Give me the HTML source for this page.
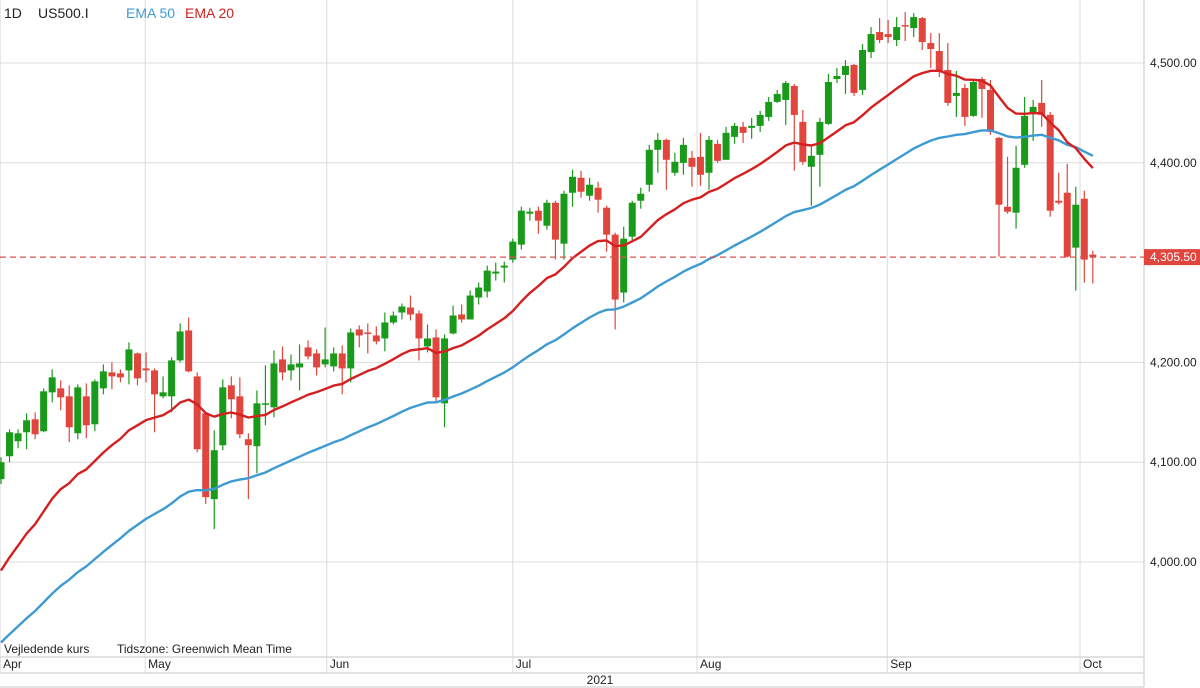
<!DOCTYPE html>
<html><head><meta charset="utf-8"><style>
body{margin:0;background:#fff;width:1200px;height:688px;overflow:hidden;font-family:"Liberation Sans",sans-serif}
svg{display:block}
</style></head><body>
<svg id="chart" width="1200" height="688" xmlns="http://www.w3.org/2000/svg">
<g id="grid"></g>
<g id="axes"></g>
<g id="candles"></g>
<g id="lines"></g>
<g id="overlay"></g>
<text x="4" y="18" font-size="14" fill="#222">1D</text>
<text x="38" y="18" font-size="14" fill="#222">US500.I</text>
<text x="126" y="18" font-size="14" fill="#3d9bd2">EMA 50</text>
<text x="185" y="18" font-size="14" fill="#d42020">EMA 20</text>
<text x="4" y="653" font-size="12" fill="#222">Vejledende kurs</text>
<text x="117" y="653" font-size="12" fill="#222">Tidszone: Greenwich Mean Time</text>
</svg>
<script>
const opens=[4083,4106,4121,4130,4143,4131,4170,4174,4166,4129,4166,4138,4174,4190,4189,4192,4209,4194,4192,4166,4166,4202,4232,4186,4149,4063,4117,4177,4166,4123,4116,4158,4155,4203,4192,4195,4215,4209,4198,4196,4209,4194,4233,4230,4227,4224,4240,4250,4255,4249,4216,4225,4159,4229,4248,4243,4265,4271,4289,4295,4303,4318,4349,4352,4337,4360,4319,4370,4385,4367,4375,4355,4328,4270,4326,4362,4378,4413,4423,4390,4400,4405,4406,4390,4419,4403,4426,4436,4435,4437,4446,4461,4463,4477,4441,4396,4408,4439,4484,4488,4498,4473,4511,4531,4529,4523,4538,4535,4545,4520,4512,4493,4467,4475,4447,4484,4473,4425,4356,4350,4398,4450,4460,4448,4362,4370,4315,4364,4308];
const highs=[4105,4133,4133,4149,4150,4174,4193,4182,4177,4178,4179,4183,4198,4200,4193,4220,4210,4210,4194,4186,4205,4239,4245,4190,4150,4132,4183,4186,4185,4129,4172,4197,4212,4216,4208,4218,4222,4213,4235,4215,4217,4234,4237,4239,4236,4250,4251,4259,4267,4252,4238,4233,4228,4257,4258,4272,4280,4297,4300,4301,4324,4356,4355,4356,4363,4362,4372,4393,4392,4385,4381,4357,4330,4336,4362,4375,4418,4430,4424,4410,4425,4412,4430,4427,4423,4436,4440,4441,4445,4452,4466,4473,4482,4479,4453,4416,4445,4489,4495,4503,4499,4519,4536,4545,4543,4546,4551,4550,4546,4530,4530,4520,4492,4479,4483,4486,4483,4426,4406,4417,4466,4463,4483,4451,4390,4399,4376,4372,4312];
const lows=[4078,4100,4114,4113,4123,4130,4160,4152,4120,4123,4124,4131,4168,4173,4180,4178,4177,4180,4130,4164,4150,4200,4190,4110,4058,4033,4112,4144,4124,4063,4089,4137,4145,4182,4182,4172,4203,4187,4195,4191,4168,4180,4215,4209,4218,4211,4238,4243,4242,4202,4210,4160,4135,4228,4240,4243,4258,4265,4282,4280,4300,4313,4342,4329,4333,4303,4303,4356,4365,4362,4350,4311,4233,4260,4321,4354,4371,4390,4373,4387,4388,4376,4377,4373,4400,4403,4419,4420,4424,4431,4442,4460,4438,4392,4398,4357,4376,4438,4480,4469,4467,4468,4505,4520,4520,4517,4522,4526,4513,4495,4486,4457,4446,4437,4446,4445,4428,4306,4349,4334,4395,4422,4436,4346,4358,4305,4272,4280,4279];
const closes=[4100,4130,4129,4142,4128,4171,4185,4165,4135,4175,4137,4181,4191,4186,4185,4213,4184,4192,4168,4170,4202,4231,4191,4113,4065,4112,4175,4163,4128,4117,4159,4159,4199,4190,4198,4199,4206,4195,4203,4209,4194,4230,4227,4229,4221,4240,4247,4256,4248,4224,4224,4165,4224,4247,4243,4267,4275,4292,4291,4297,4321,4352,4351,4342,4360,4323,4369,4386,4371,4378,4363,4328,4263,4324,4360,4369,4413,4423,4403,4401,4418,4396,4388,4423,4402,4430,4437,4430,4437,4448,4461,4469,4480,4448,4401,4407,4441,4481,4487,4497,4470,4513,4529,4523,4526,4536,4537,4546,4521,4514,4492,4460,4470,4446,4481,4474,4431,4358,4351,4395,4447,4456,4448,4352,4360,4306,4358,4303,4306];
const yTicks=[4000,4100,4200,4300,4400,4500];
const months=["Apr","May","Jun","Jul","Aug","Sep","Oct"];
const monthStartIdx=[-0.1,16.9,38.2,60.0,81.6,103.9,126.5];
const lastPrice=4305.5;
const ema20Seed=3980, ema50Seed=3912;

const NS="http://www.w3.org/2000/svg";
const PL=0,PR=1144,PB=657;
const yS=v=>63+(4500-v)*0.998;
const xS=i=>1+i*8.53;
function mk(tag,attrs,parent){const e=document.createElementNS(NS,tag);for(const k in attrs)e.setAttribute(k,attrs[k]);parent.appendChild(e);return e;}
const grid=document.getElementById('grid'),axes=document.getElementById('axes'),cg=document.getElementById('candles'),lg=document.getElementById('lines'),ov=document.getElementById('overlay');

yTicks.forEach(t=>{
  if(t===4300)return;
  const y=yS(t);
  const l=mk('line',{x1:PL,x2:PR,y1:y,y2:y,stroke:'#dcdcdc','stroke-width':1},grid);
  
  
  const tx=mk('text',{x:1150,y:y+4,'font-size':12,fill:'#222'},axes);
  tx.textContent=t.toLocaleString('en-US',{minimumFractionDigits:2});
  
  
});
months.forEach((m,k)=>{
  const x=Math.max(0,xS(monthStartIdx[k]));
  const l=mk('line',{x1:x,x2:x,y1:0,y2:673,stroke:'#dcdcdc','stroke-width':1},grid);
  
  
  const tx=mk('text',{x:x+3,y:668,'font-size':12,fill:'#222'},axes);
  tx.textContent=m;
  
  
});
[[PR,0,PR,687],[0,PB,PR,PB],[0,673,PR,673],[0,687,PR,687]].forEach(a=>{
  const l=mk('line',{x1:a[0],y1:a[1],x2:a[2],y2:a[3],stroke:'#d8d8d8','stroke-width':1.5},axes);
  
  
});
const yr=mk('text',{x:600,y:684,'font-size':12,fill:'#222','text-anchor':'middle'},axes);
yr.textContent='2021';



closes.forEach((c,i)=>{
  const o=opens[i],up=c>=o,col=up?'#1a9a1a':'#e0463d',x=xS(i);
  const w=mk('line',{x1:x,x2:x,y1:yS(highs[i]),y2:yS(lows[i]),stroke:col,'stroke-width':1.2},cg);
  
  
  const top=yS(Math.max(o,c)),bot=yS(Math.min(o,c));
  const b=mk('rect',{x:x-3.5,y:top,width:7,height:Math.max(1.5,bot-top),fill:col},cg);
  
  
});

function ema(seed,n){const a=2/(n+1);let e=seed;return closes.map(c=>(e=e+a*(c-e)));}
function drawLine(vals,col,name){
  const d=vals.map((v,i)=>(i?'L':'M')+xS(i).toFixed(1)+' '+yS(v).toFixed(1)).join(' ');
  const p=mk('path',{d:d,fill:'none',stroke:col,'stroke-width':2.4,'stroke-linejoin':'round'},lg);
  
  
}
drawLine(ema(ema50Seed,50),'#3d9bd2','ema50-line');
drawLine(ema(ema20Seed,20),'#d42020','ema20-line');

const ly=yS(lastPrice);
const pl=mk('line',{x1:0,x2:1144,y1:ly,y2:ly,stroke:'#d9534f','stroke-width':1.2,'stroke-dasharray':'6,4'},ov);


const lb=mk('rect',{x:1144,y:ly-8,width:56,height:16,fill:'#e0463d'},ov);


const lt=mk('text',{x:1150,y:ly+4,'font-size':12,fill:'#fff'},ov);
lt.textContent=lastPrice.toLocaleString('en-US',{minimumFractionDigits:2});


</script>
</body></html>
